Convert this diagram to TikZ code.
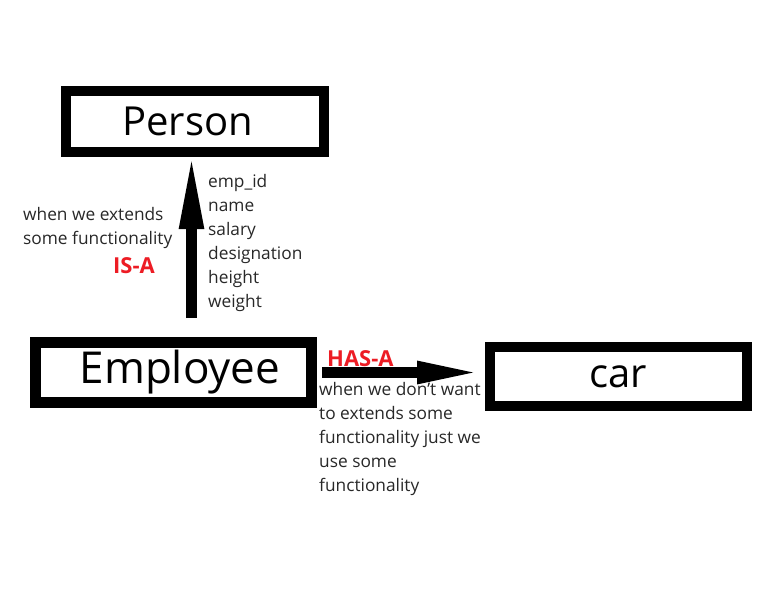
\documentclass[tikz,border=0pt]{standalone}
\usepackage{fontspec}
\setmainfont{Open Sans}
\usetikzlibrary{arrows.meta}
\definecolor{relred}{RGB}{237,28,36}
\definecolor{notegray}{RGB}{40,40,40}

\begin{document}
\begin{tikzpicture}[
        x=1pt, y=-1pt,
        classbox/.style={draw, line width=10pt, inner sep=0pt, font=\fontsize{40}{48}\selectfont},
        notetext/.style={anchor=north west, inner sep=0pt, align=left, text=notegray, font=\fontsize{17.3}{24}\selectfont},
        relname/.style={inner sep=0pt, text=relred, font=\bfseries\fontsize{22}{26}\selectfont},
        isaarrow/.style={line width=11pt, -{Triangle[length=77pt, width=22pt]}},
        hasarrow/.style={line width=11pt, -{Triangle[length=67pt, width=20pt]}}
    ]
        \useasboundingbox (0,0) rectangle (761,600);
        \fill[white] (0,0) rectangle (761,600);

        % classes
        \node[classbox, minimum width=258pt, minimum height=61pt]
            (person) at (195,121.5) {Person\kern15pt};
        \node[classbox, line width=11pt, minimum width=276pt, minimum height=60pt,
              font=\fontsize{44}{52}\selectfont]
            (employee) at (173.5,372.5) {\hspace{13pt}Employee};
        \node[classbox, minimum width=257pt, minimum height=59pt]
            (car) at (618.5,376.5) {car};

        % IS-A
        \coordinate (isaTail) at (191.5,318);
        \draw[isaarrow, shorten >=-5pt]
            (isaTail) -- (isaTail |- person.south);
        \node[relname] (isa) at (134,266) {IS-A};
        \node[notetext] (isaNote) at (23,207)
            {when we extends\\some functionality};
        \node[notetext] (fields) at (208,174)
            {emp\_id\\name\\salary\\designation\\height\\weight};

        % HAS-A
        \draw[hasarrow, shorten <=5pt, shorten >=1pt]
            (employee.east) -- (employee.east -| car.west);
        \node[relname, anchor=west] (hasa) at (327,359) {HAS-A};
        \node[notetext] (hasaNote) at (319,382)
            {when we don't want\\to extends some\\functionality just we\\use some\\functionality};
    \end{tikzpicture}
\end{document}
